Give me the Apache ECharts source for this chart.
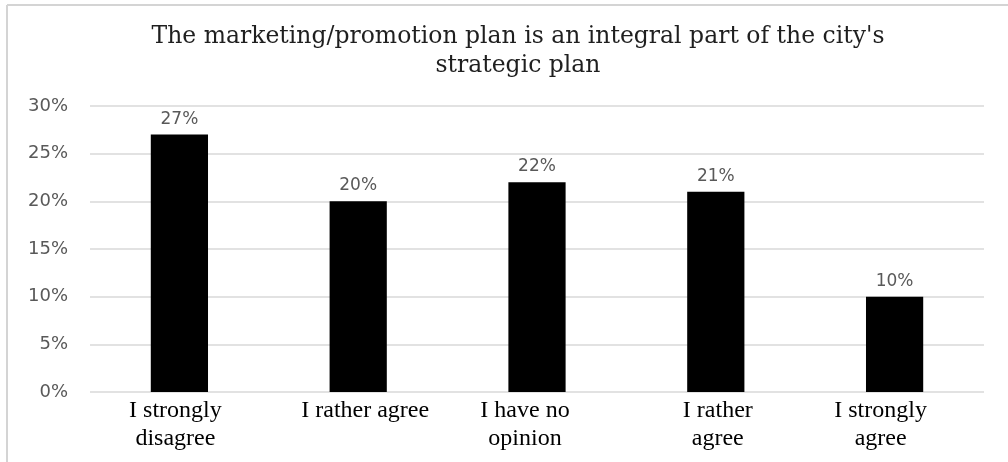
<!DOCTYPE html>
<html>
<head>
<meta charset="utf-8">
<script src="https://cdn.jsdelivr.net/npm/echarts@6/dist/echarts.min.js"></script>
<style>
  html, body { margin: 0; padding: 0; background: #ffffff; }
  #chart { width: 1008px; height: 462px; }
</style>
</head>
<body>
<div id="chart"></div>
<script>
// Survey answers and their shares (percent of respondents)
const titleText = "The marketing/promotion plan is an integral part of the city's\nstrategic plan";
const categories = ["I strongly\ndisagree", "I rather agree", "I have no\nopinion", "I rather\nagree", "I strongly\nagree"];
const shares = [27, 20, 22, 21, 10];
const yTicks = [0, 5, 10, 15, 20, 25, 30];

// small horizontal nudges for the category captions (px)
const captionNudge = [-4, 7, -12, 2, -14];

const chart = echarts.init(document.getElementById('chart'), null, { renderer: 'canvas' });

const axisData = categories.map((c, i) => ({
  value: c,
  textStyle: {
    padding: captionNudge[i] < 0 ? [0, -captionNudge[i] * 2, 0, 0] : [0, 0, 0, captionNudge[i] * 2]
  }
}));

chart.setOption({
  animation: false,
  backgroundColor: '#ffffff',
  graphic: [
    // frame lines along the top and left edges
    { type: 'line', shape: { x1: 7, y1: 5, x2: 1008, y2: 5 }, style: { stroke: '#d4d4d4', lineWidth: 2 } },
    { type: 'line', shape: { x1: 7, y1: 5, x2: 7, y2: 462 }, style: { stroke: '#d4d4d4', lineWidth: 2 } },
    {
      type: 'text', x: 518, y: 22,
      style: {
        text: titleText, align: 'center', verticalAlign: 'top',
        font: '23.5px "DejaVu Serif"', lineHeight: 29, fill: '#1f1f1f'
      }
    }
  ],
  grid: { left: 90, right: 24, top: 106, bottom: 70, containLabel: false },
  xAxis: {
    type: 'category',
    data: axisData,
    axisLine: { show: false },
    axisTick: { show: false },
    axisLabel: {
      interval: 0,
      margin: 5,
      fontFamily: '"Liberation Serif"',
      fontSize: 24,
      lineHeight: 28,
      color: '#000000'
    }
  },
  yAxis: {
    type: 'value',
    min: 0, max: 30, interval: 5,
    axisLine: { show: false },
    axisTick: { show: false },
    splitLine: { lineStyle: { color: '#d9d9d9', width: 1.5 } },
    axisLabel: {
      margin: 22,
      fontFamily: '"DejaVu Sans"',
      fontSize: 18,
      color: '#595959',
      formatter: v => yTicks.includes(v) ? v + '%' : ''
    }
  },
  series: [{
    type: 'bar',
    data: shares,
    barWidth: '32%',
    itemStyle: { color: '#000000' },
    label: {
      show: true,
      position: 'top',
      distance: 7,
      fontFamily: '"DejaVu Sans"',
      fontSize: 17,
      color: '#595959',
      formatter: p => p.value + '%'
    }
  }]
});
</script>
</body>
</html>
